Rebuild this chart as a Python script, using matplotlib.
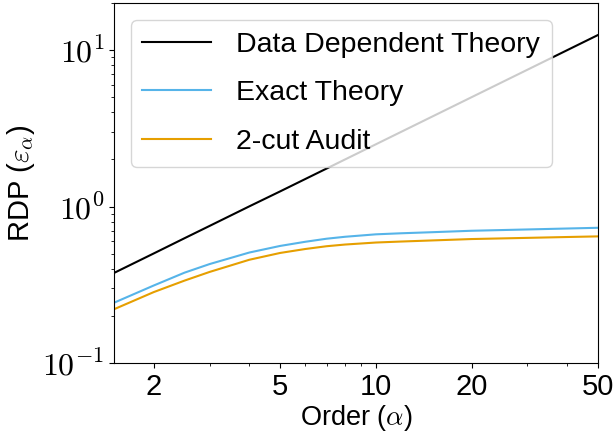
import math

import matplotlib
matplotlib.use("Agg")
import matplotlib.pyplot as plt
from matplotlib.ticker import FixedLocator, NullFormatter, FuncFormatter

plt.rcParams["mathtext.fontset"] = "cm"
plt.rcParams["font.family"] = ["Liberation Sans", "DejaVu Sans"]

# Renyi order
alpha = [1.5, 2, 2.5, 3, 4, 5, 6, 7, 8, 10, 12, 15, 20, 30, 40, 50]

# RDP curves
data_dep = [0.376, 0.501, 0.627, 0.752, 1.003, 1.25, 1.50, 1.75, 2.0, 2.5,
            3.0, 3.75, 5.0, 7.5, 10.0, 12.5]
exact = [0.2425, 0.3125, 0.3776, 0.4287, 0.508, 0.5598, 0.5951, 0.6225, 0.6405,
         0.664, 0.6743, 0.685, 0.6998, 0.7134, 0.7234, 0.7311]
audit = [0.2203, 0.2836, 0.3359, 0.3818, 0.4567, 0.5048, 0.535, 0.5573, 0.5713,
         0.5885, 0.5971, 0.6068, 0.6194, 0.6303, 0.6383, 0.6442]

xticks = [2, 5, 10, 20, 50]

fig = plt.figure(figsize=(6.13, 4.42), dpi=100)
ax = fig.add_axes([0.186, 0.179, 0.7895, 0.814])

ax.plot(alpha, data_dep, color="black", lw=1.5, label="Data Dependent Theory")
ax.plot(alpha, exact, color="#56B4E9", lw=1.5, label="Exact Theory")
ax.plot(alpha, audit, color="#E69F00", lw=1.5, label="2-cut Audit")

ax.set_xscale("log")
ax.set_yscale("log")
ax.set_xlim(1.5, 50)
ax.set_ylim(0.1, 20)

ax.xaxis.set_major_locator(FixedLocator(xticks))
ax.set_xticklabels([str(t) for t in xticks])
ax.xaxis.set_minor_formatter(NullFormatter())
ax.yaxis.set_major_formatter(FuncFormatter(lambda v, p: r"$10^{%d}$" % round(math.log10(v))))
ax.yaxis.set_minor_formatter(NullFormatter())
ax.tick_params(axis="x", which="major", labelsize=21)
ax.tick_params(axis="y", which="major", labelsize=23)

ax.set_xlabel(r"Order ($\alpha$)", fontsize=19.5, labelpad=2)
ax.set_ylabel(r"RDP ($\varepsilon_\alpha$)", fontsize=21)

ax.legend(loc="upper left", fontsize=20.5, handlelength=2.4, handletextpad=0.9,
          labelspacing=0.8, borderaxespad=0.6)

fig.savefig("out.png", dpi=100)
